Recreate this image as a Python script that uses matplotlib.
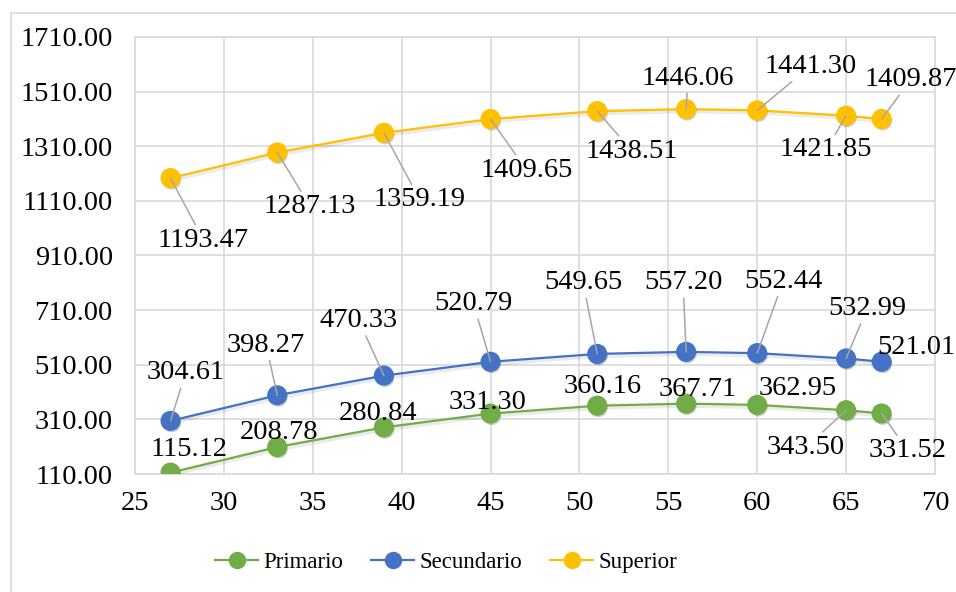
import numpy as np
import matplotlib
matplotlib.use("Agg")
import matplotlib.pyplot as plt
import matplotlib.patheffects as pe
from matplotlib.patches import Rectangle


# data
edad = [27, 33, 39, 45, 51, 56, 60, 65, 67]
primario = [115.12, 208.78, 280.84, 331.30, 360.16, 367.71, 362.95, 343.50, 331.52]
secundario = [304.61, 398.27, 470.33, 520.79, 549.65, 557.20, 552.44, 532.99, 521.01]
superior = [1193.47, 1287.13, 1359.19, 1409.65, 1438.51, 1446.06, 1441.30, 1421.85, 1409.87]
yticks = [110, 310, 510, 710, 910, 1110, 1310, 1510, 1710]
xticks = [25, 30, 35, 40, 45, 50, 55, 60, 65, 70]

# label offsets in pixels (dx, dy) and whether a leader line is drawn
off_pri = [(18, 23), (2, 15), (-6, 14), (-3, 11), (5, 19), (12, 14), (40, 16), (-40, -37), (26, -37)]
lead_pri = [0, 0, 0, 0, 0, 0, 0, 1, 1]
off_sec = [(15, 48), (-11, 50), (-25, 55), (-17, 58), (-14, 71), (-3, 69), (26, 72), (21, 50), (35, 14)]
lead_sec = [1, 1, 1, 1, 1, 1, 1, 1, 0]
off_sup = [(33, -62), (33, -54), (36, -67), (36, -51), (35, -40), (2, 31), (53, 44), (-20, -34), (29, 39)]
lead_sup = [1, 1, 1, 1, 1, 1, 1, 1, 1]

plt.rcParams['font.family'] = ['Liberation Serif', 'DejaVu Serif']
plt.rcParams['font.size'] = 20.5

fig = plt.figure(figsize=(9.56, 5.92), dpi=100)
fig.patches.append(Rectangle((11/956, -0.1), 1.2, 1.1 - 13/592, transform=fig.transFigure,
                             fill=False, edgecolor='#D9D9D9', lw=1.2))
ax = fig.add_axes([135/956, 1 - 474/592, 800/956, 437/592])

series = [
    ("Primario", primario, '#70AD47', off_pri, lead_pri),
    ("Secundario", secundario, '#4472C4', off_sec, lead_sec),
    ("Superior", superior, '#FFC000', off_sup, lead_sup),
]

handles = []
for name, vals, col, offs, leads in series:
    ax.plot(edad, vals, color=col, lw=1.6, zorder=3,
            path_effects=[pe.SimpleLineShadow(offset=(0.8, -1.5), alpha=0.08, shadow_color='black', linewidth=3), pe.Normal()])
    ax.plot(edad, vals, ls='none', marker='o', ms=13.5, color=col, mec=col, zorder=4,
            path_effects=[pe.SimplePatchShadow(offset=(0.8, -1.5), alpha=0.2, shadow_rgbFace='black'), pe.Normal()])
    h, = ax.plot([], [], color=col, lw=1.6, marker='o', ms=11.5, mec=col)
    handles.append(h)
    for x, v, o, l in zip(edad, vals, offs, leads):
        props = None
        if l:
            props = dict(arrowstyle='-', color='#A6A6A6', lw=1.1, shrinkA=0, shrinkB=0)
        ax.annotate(f"{v:.2f}", (x, v), xytext=o, textcoords='offset pixels',
                    ha='center', va='center', arrowprops=props, zorder=5)

ax.set_xlim(25, 70)
ax.set_ylim(110, 1710)
ax.set_xticks(xticks)
ax.set_yticks(yticks)
ax.set_yticklabels([f"{t:.2f}" for t in yticks])
ax.grid(True, color='#D9D9D9', lw=1.2)
ax.set_axisbelow(True)
ax.tick_params(length=0)
ax.tick_params(axis='y', pad=16)
ax.tick_params(axis='x', pad=12)
for s in ax.spines.values():
    s.set_color('#D9D9D9')
    s.set_linewidth(1.2)

fig.legend(handles, [s[0] for s in series], loc='center', bbox_to_anchor=(446/956, 1 - 562/592),
           ncol=3, frameon=False, fontsize=16.5, handlelength=1.9, handletextpad=0.22, columnspacing=1.2)

fig.savefig("out.png", dpi=100)
